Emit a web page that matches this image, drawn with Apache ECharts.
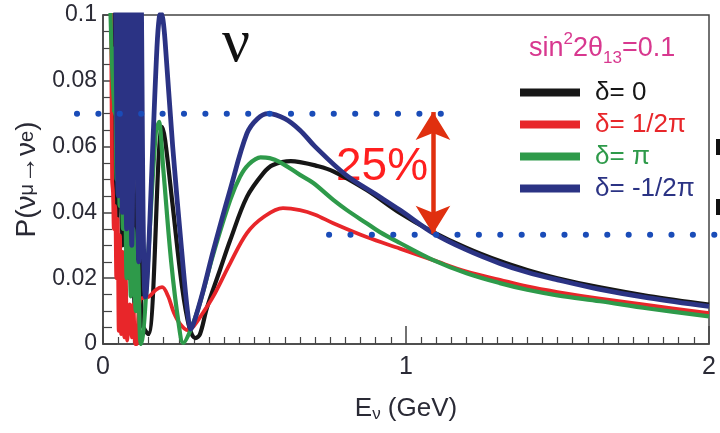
<!DOCTYPE html>
<html>
<head>
<meta charset="utf-8">
<script src="https://cdn.jsdelivr.net/npm/echarts@6/dist/echarts.min.js"></script>
<style>
  html, body { margin: 0; padding: 0; background: #fff; }
  #chart { width: 720px; height: 433px; }
</style>
</head>
<body>
<div id="chart"></div>
<script>
// P(nu_mu -> nu_e) vs E_nu (GeV)
var curveBlack = [
  [0.03, 0.12], [0.045, 0.03], [0.055, 0.09], [0.065, 0.03], [0.075, 0.08], [0.085, 0.02],
  [0.095, 0.06], [0.105, 0.01], [0.115, 0.05], [0.13, 0.006], [0.15, 0.003], [0.195, 0.066],
  [0.205, 0.062], [0.23, 0.042], [0.26, 0.018], [0.285, 0.005], [0.305, 0.0018], [0.32, 0.003],
  [0.343, 0.011], [0.386, 0.0225], [0.42, 0.0316], [0.475, 0.0447], [0.53, 0.052], [0.561, 0.0544],
  [0.62, 0.0556], [0.65, 0.0553], [0.7, 0.0543], [0.76, 0.0525], [0.87, 0.0468], [0.98, 0.0398],
  [1.08, 0.0345], [1.2, 0.0292], [1.31, 0.0252], [1.4, 0.0225], [1.5, 0.02], [1.64, 0.0172],
  [1.8, 0.0146], [2.0, 0.012]
];
var curveRed = [
  [0.026, 0.12], [0.03, 0.05], [0.033, 0.046], [0.036, 0.035], [0.04, 0.042], [0.044, 0.02],
  [0.048, 0.038], [0.052, 0.004], [0.056, 0.033], [0.06, 0.003], [0.065, 0.028], [0.07, 0.002],
  [0.075, 0.02], [0.08, 0.001], [0.088, 0.012], [0.095, 0.002], [0.1, 0.012], [0.107, 0.0],
  [0.112, 0.0], [0.122, 0.0135], [0.15, 0.0143], [0.175, 0.0165], [0.195, 0.0173], [0.215, 0.0145],
  [0.234, 0.0095], [0.255, 0.006], [0.28, 0.0042], [0.3, 0.0055], [0.33, 0.0095], [0.363, 0.0143],
  [0.42, 0.0246], [0.475, 0.0337], [0.53, 0.0386], [0.594, 0.0413], [0.65, 0.0407], [0.7, 0.0393],
  [0.76, 0.0367], [0.87, 0.0325], [0.98, 0.029], [1.09, 0.0255], [1.2, 0.022], [1.31, 0.0195],
  [1.4, 0.0175], [1.5, 0.0158], [1.64, 0.0138], [1.8, 0.0118], [2.0, 0.0094]
];
var curveGreen = [
  [0.02, 0.12], [0.036, 0.07], [0.04, 0.09], [0.045, 0.05], [0.05, 0.08], [0.055, 0.042],
  [0.06, 0.07], [0.066, 0.035], [0.072, 0.06], [0.078, 0.02], [0.085, 0.045], [0.092, 0.0145],
  [0.1, 0.035], [0.108, 0.01], [0.115, 0.025], [0.125, 0.0], [0.185, 0.0675], [0.2, 0.052],
  [0.225, 0.025], [0.25, 0.006], [0.265, 0.0003], [0.29, 0.0045], [0.32, 0.0125], [0.363, 0.027],
  [0.42, 0.0438], [0.452, 0.0508], [0.48, 0.0545], [0.52, 0.0567], [0.55, 0.0565], [0.584, 0.0553],
  [0.65, 0.0514], [0.693, 0.049], [0.76, 0.0438], [0.805, 0.0407], [0.87, 0.0367], [0.914, 0.034],
  [0.98, 0.0307], [1.09, 0.0255], [1.2, 0.0215], [1.31, 0.0185], [1.4, 0.0165], [1.5, 0.0148],
  [1.64, 0.013], [1.8, 0.0108], [2.0, 0.0084]
];
var curveBlue = [
  [0.04, 0.12], [0.05, 0.045], [0.056, 0.12], [0.064, 0.04], [0.07, 0.12], [0.078, 0.035],
  [0.085, 0.12], [0.095, 0.03], [0.105, 0.12], [0.118, 0.025], [0.125, 0.11], [0.14, 0.0143],
  [0.178, 0.09], [0.186, 0.0995], [0.192, 0.1005], [0.198, 0.0985], [0.205, 0.092], [0.23, 0.06],
  [0.26, 0.028], [0.28, 0.009], [0.29, 0.0045], [0.3, 0.0065], [0.33, 0.016], [0.363, 0.028],
  [0.42, 0.047], [0.475, 0.064], [0.51, 0.0685], [0.545, 0.07], [0.6, 0.0685], [0.65, 0.065],
  [0.7, 0.06], [0.8, 0.0515], [0.9, 0.0455], [0.98, 0.0407], [1.09, 0.0337], [1.2, 0.0286],
  [1.31, 0.0245], [1.4, 0.0218], [1.5, 0.0195], [1.64, 0.0166], [1.8, 0.014], [2.0, 0.0114]
];
// dotted guide lines (they run past the frame) and the 25% arrow
var dotLineHigh = [[-0.086, 0.07], [1.185, 0.07]];
var dotLineLow = [[0.746, 0.0332], [2.04, 0.0332]];
var arrowX = 1.089;
var arrowEnds = [0.0705, 0.0335];

var names = ['δ= 0', 'δ= 1/2π', 'δ= π', 'δ= -1/2π'];
var colors = ['#161616', '#e8262a', '#2e9a4a', '#2b3384'];
var yTicks = [0, 0.02, 0.04, 0.06, 0.08, 0.1];

var chart = echarts.init(document.getElementById('chart'));
var font = 'Liberation Sans, Arial, sans-serif';
var textColor = '#2a2a35';

// full-width overlay grid, same vertical scale, so the dots can leave the frame
var plotLeft = 103, plotRight = 709, pxPerUnit = (plotRight - plotLeft) / 2;
var overlayMin = -plotLeft / pxPerUnit, overlayMax = 2 + (720 - plotRight) / pxPerUnit;

function curve(i, data, w) {
  return {
    name: names[i], type: 'line', data: data, symbol: 'none', showSymbol: false,
    smooth: 0.35,
    lineStyle: { color: colors[i], width: w, join: 'round' },
    itemStyle: { color: colors[i] }, z: 2, silent: true
  };
}
function dots(data) {
  return {
    type: 'line', data: data, symbol: 'none', silent: true, z: 5,
    xAxisIndex: 1, yAxisIndex: 1,
    lineStyle: { color: '#1a4cb8', width: 6, type: [0.1, 21.3], cap: 'round' }
  };
}

var option = {
  animation: false,
  backgroundColor: '#fff',
  grid: [
    { left: plotLeft, right: 720 - plotRight, top: 15, bottom: 89, show: true, borderColor: '#444', borderWidth: 1.5 },
    { left: 0, right: 0, top: 15, bottom: 89 }
  ],
  legend: {
    orient: 'vertical', left: 515, top: 74, itemWidth: 60, itemHeight: 8, itemGap: 5,
    icon: 'rect',
    textStyle: { fontSize: 26, fontFamily: font, lineHeight: 27, padding: [0, 0, 0, 10] },
    data: names.map(function (n, i) { return { name: n, textStyle: { color: colors[i] } }; })
  },
  xAxis: [{
    type: 'value', min: 0, max: 2, interval: 1,
    name: 'E{s|ν} (GeV)', nameLocation: 'middle', nameGap: 50,
    nameTextStyle: { fontSize: 26, color: textColor, fontFamily: font, rich: { s: { fontSize: 17, color: textColor, padding: [12, 0, 0, 0] } } },
    axisLine: { lineStyle: { color: '#444', width: 1.5 } },
    axisTick: { inside: true, length: 18, lineStyle: { color: '#444', width: 1.5 } },
    minorTick: { show: true, splitNumber: 20, length: 7, lineStyle: { color: '#444', width: 1.2 } },
    axisLabel: { fontSize: 25, color: textColor, fontFamily: font, margin: 11 },
    splitLine: { show: false }
  }, {
    type: 'value', gridIndex: 1, min: overlayMin, max: overlayMax, show: false
  }],
  yAxis: [{
    type: 'value', min: yTicks[0], max: yTicks[yTicks.length - 1], interval: 0.02,
    name: 'P(ν{s|μ}→ν{s|e})', nameLocation: 'middle', nameGap: 60, nameRotate: 90,
    nameTextStyle: { fontSize: 28, color: textColor, fontFamily: font, rich: { s: { fontSize: 20, color: textColor } } },
    axisLine: { lineStyle: { color: '#444', width: 1.5 } },
    axisTick: { inside: true, length: 14, lineStyle: { color: '#444', width: 1.5 } },
    minorTick: { show: true, splitNumber: 4, length: 9, lineStyle: { color: '#444', width: 1.2 } },
    axisLabel: {
      fontSize: 23, color: textColor, fontFamily: font, margin: 6,
      formatter: function (v) { return v === 0 ? '0' : String(+v.toFixed(2)); }
    },
    splitLine: { show: false }
  }, {
    type: 'value', gridIndex: 1, min: yTicks[0], max: yTicks[yTicks.length - 1], show: false
  }],
  graphic: [
    { type: 'text', left: 222, top: 14, style: { text: 'ν', font: '62px "Liberation Serif", "DejaVu Serif", serif', fill: '#111' } },
    { type: 'text', left: 336, top: 144, style: { text: '25%', font: '46px "Liberation Sans", Arial, sans-serif', fill: '#ff1f1f' } },
    {
      type: 'text', left: 529, top: 31,
      style: {
        text: 'sin{sup|2}2θ{sub|13}=0.1', fill: '#d8388f', fontSize: 27, fontFamily: font, lineHeight: 36,
        rich: {
          sup: { fontSize: 17, fill: '#d8388f', verticalAlign: 'top', lineHeight: 36, fontFamily: font },
          sub: { fontSize: 17, fill: '#d8388f', verticalAlign: 'bottom', lineHeight: 36, fontFamily: font }
        }
      }
    },
    { type: 'rect', left: 716, top: 139, shape: { width: 4, height: 16 }, style: { fill: '#111' } },
    { type: 'rect', left: 716, top: 199, shape: { width: 4, height: 16 }, style: { fill: '#111' } }
  ],
  series: [
    curve(0, curveBlack, 4.2),
    curve(1, curveRed, 3.8),
    curve(2, curveGreen, 4.2),
    curve(3, curveBlue, 4.8),
    dots(dotLineHigh),
    dots(dotLineLow),
    {
      type: 'line', data: [], silent: true, z: 6,
      markLine: {
        silent: true, symbol: ['arrow', 'arrow'], symbolSize: [26, 28],
        label: { show: false },
        lineStyle: { color: '#e0300f', width: 4.5, type: 'solid' },
        data: [[{ coord: [arrowX, arrowEnds[0]] }, { coord: [arrowX, arrowEnds[1]] }]]
      }
    }
  ]
};
chart.setOption(option);
</script>
</body>
</html>
